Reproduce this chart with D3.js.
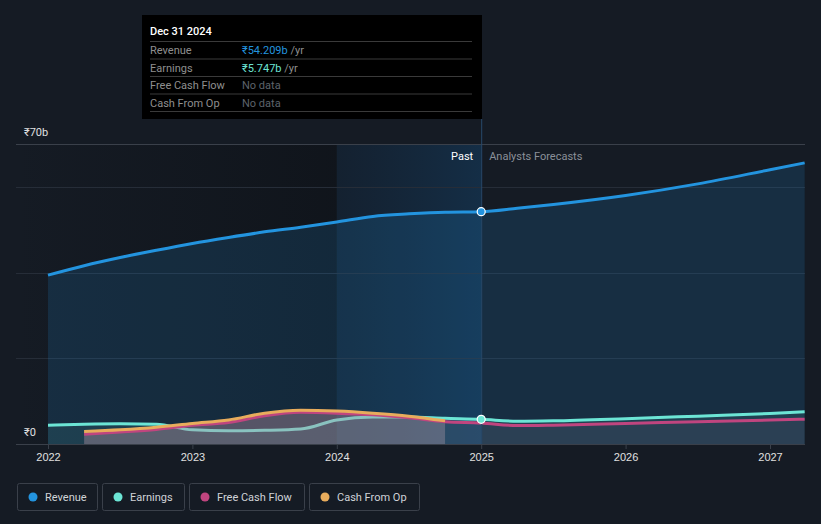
<!DOCTYPE html>
<html><head><meta charset="utf-8">
<script src="https://cdn.jsdelivr.net/npm/d3@7"></script>
<style>
html,body{margin:0;padding:0;background:#151b24;}
svg{display:block;font-family:Roboto,"Noto Sans",sans-serif;}
</style></head>
<body>
<svg id="c" width="821" height="524"></svg>
<script>
// ---- data ----
const revenueYears = [2022, 2022.25, 2022.5, 2022.75, 2023, 2023.25, 2023.5, 2023.75, 2024, 2024.25, 2024.5, 2024.75, 2025, 2025.25, 2025.5, 2026, 2026.5, 2027, 2027.24];
const revenueVals  = [39.4, 41.6, 43.5, 45.2, 46.8, 48.2, 49.5, 50.6, 51.8, 53.1, 53.7, 54.1, 54.209, 55.0, 55.9, 58.0, 60.7, 64.0, 65.6];
const earningsYears = [2022, 2022.25, 2022.5, 2022.75, 2023, 2023.25, 2023.5, 2023.75, 2024, 2024.25, 2024.5, 2024.75, 2025, 2025.25, 2025.5, 2026, 2026.5, 2027, 2027.24];
const earningsVals  = [4.4, 4.6, 4.7, 4.6, 3.3, 3.1, 3.2, 3.5, 5.6, 6.3, 6.3, 6.0, 5.747, 5.3, 5.4, 5.9, 6.5, 7.1, 7.5];
const fcfYears = [2022.25, 2022.5, 2022.75, 2023, 2023.25, 2023.5, 2023.75, 2024, 2024.25, 2024.5, 2024.75, 2025, 2025.25, 2025.5, 2026, 2026.5, 2027, 2027.24];
const fcfVals  = [2.3, 2.8, 3.4, 4.4, 5.0, 6.6, 7.4, 7.2, 6.8, 6.1, 5.2, 4.9, 4.3, 4.4, 4.8, 5.2, 5.6, 5.8];
const cfoYears = [2022.25, 2022.5, 2022.75, 2023, 2023.25, 2023.5, 2023.75, 2024, 2024.25, 2024.5, 2024.75];
const cfoVals  = [2.9, 3.3, 3.9, 4.8, 5.6, 7.2, 7.9, 7.7, 7.2, 6.5, 5.4];
const xTicks = [2022, 2023, 2024, 2025, 2026, 2027];
const yTickVals = [0, 20, 40, 60, 70];
const yLabels = [[0, "₹0"], [70, "₹70b"]];
const seriesNames = ["Revenue", "Earnings", "Free Cash Flow", "Cash From Op"];
const seriesColors = ["#2394df", "#6ce5d5", "#c0457f", "#e8ac5c"];
const tipDate = "Dec 31 2024";
const tipRows = [["Revenue", "₹54.209b", " /yr", "#2394df"], ["Earnings", "₹5.747b", " /yr", "#6ce5d5"], ["Free Cash Flow", "No data", "", "#5d636b"], ["Cash From Op", "No data", "", "#5d636b"]];
const pastEnd = 2025, highlightStart = 2024;

// ---- scales ----
const x = d3.scaleLinear().domain([2022, 2027]).range([48, 770]);
const y = d3.scaleLinear().domain([0, 70]).range([444, 144]);
const left = 16, right = 805;
const svg = d3.select("#c");

const defs = svg.append("defs");
const hg = defs.append("linearGradient").attr("id", "hl").attr("x1", 0).attr("x2", 1);
hg.append("stop").attr("offset", 0).attr("stop-color", "#13263a").attr("stop-opacity", 0.55);
hg.append("stop").attr("offset", 1).attr("stop-color", "#14304a").attr("stop-opacity", 0.9);
const lg = defs.append("linearGradient").attr("id", "lf").attr("x1", 0).attr("x2", 1);
lg.append("stop").attr("offset", 0).attr("stop-color", "#0e1218").attr("stop-opacity", 0);
lg.append("stop").attr("offset", 1).attr("stop-color", "#0e1218").attr("stop-opacity", 0.7);

// background regions
svg.append("rect").attr("x", left).attr("y", y(70)).attr("width", x(highlightStart) - left).attr("height", y(0) - y(70)).attr("fill", "url(#lf)");
svg.append("rect").attr("x", x(highlightStart)).attr("y", y(70)).attr("width", x(pastEnd) - x(highlightStart)).attr("height", y(0) - y(70)).attr("fill", "url(#hl)");

// gridlines
svg.append("g").selectAll("line").data(yTickVals).join("line")
  .attr("x1", left).attr("x2", right).attr("y1", d => Math.round(y(d)) + 0.5).attr("y2", d => Math.round(y(d)) + 0.5)
  .attr("stroke", d => d === 70 ? "#3a404a" : "#262d38").attr("stroke-width", 1);

const curve = d3.curveMonotoneX;
const zip = (xs, vs) => xs.map((d, i) => [d, vs[i]]);
const rev = zip(revenueYears, revenueVals), ear = zip(earningsYears, earningsVals), fcf = zip(fcfYears, fcfVals), cfo = zip(cfoYears, cfoVals);
const area = d3.area().x(d => x(d[0])).y0(y(0)).y1(d => y(d[1])).curve(curve);
const line = d3.line().x(d => x(d[0])).y(d => y(d[1])).curve(curve);

// areas
svg.append("path").attr("d", area(rev)).attr("fill", "#2394df").attr("fill-opacity", 0.16);
svg.append("path").attr("d", area(ear)).attr("fill", "#6ce5d5").attr("fill-opacity", 0.1);
svg.append("path").attr("d", line(ear)).attr("fill", "none").attr("stroke", seriesColors[1]).attr("stroke-width", 3);
svg.append("path").attr("d", area(fcf)).attr("fill", "#c0457f").attr("fill-opacity", 0.08);
svg.append("path").attr("d", area(cfo)).attr("fill", "#b0aeb0").attr("fill-opacity", 0.33);
svg.append("path").attr("d", area(fcf.filter(d => d[0] <= 2024.75))).attr("fill", "#c0457f").attr("fill-opacity", 0.06);

// lines
svg.append("path").attr("d", line(rev)).attr("fill", "none").attr("stroke", seriesColors[0]).attr("stroke-width", 3);
svg.append("path").attr("d", line(fcf)).attr("fill", "none").attr("stroke", seriesColors[2]).attr("stroke-width", 3);
svg.append("path").attr("d", line(cfo)).attr("fill", "none").attr("stroke", seriesColors[3]).attr("stroke-width", 3);

// x axis line
svg.append("line").attr("x1", left).attr("x2", right).attr("y1", y(0) + 0.5).attr("y2", y(0) + 0.5).attr("stroke", "#3a404a");
const xa = svg.append("g").attr("transform", `translate(0,${y(0)})`)
  .call(d3.axisBottom(x).tickValues(xTicks).tickFormat(d3.format("d")).tickSize(5).tickPadding(4));
xa.select(".domain").remove();
xa.selectAll("line").attr("stroke", "#3a404a");
xa.selectAll("text").attr("fill", "#e0e0e0").attr("font-size", 11);

// y labels
svg.append("g").selectAll("text").data(yLabels).join("text")
  .attr("x", 24).attr("y", d => y(d[0]) - 8).attr("fill", "#e0e0e0").attr("font-size", 11).text(d => d[1]);

// divider
svg.append("line").attr("x1", x(pastEnd) + 0.5).attr("x2", x(pastEnd) + 0.5).attr("y1", 119).attr("y2", y(0)).attr("stroke", "#27496a").attr("stroke-width", 1);
svg.append("text").attr("x", x(pastEnd) - 8).attr("y", 160).attr("text-anchor", "end").attr("fill", "#ffffff").attr("font-size", 11).text("Past");
svg.append("text").attr("x", x(pastEnd) + 8).attr("y", 160).attr("fill", "#8a9099").attr("font-size", 11).text("Analysts Forecasts");

// markers
svg.append("circle").attr("cx", x(2025)).attr("cy", y(54.209)).attr("r", 4).attr("fill", seriesColors[0]).attr("stroke", "#fff").attr("stroke-width", 1.2);
svg.append("circle").attr("cx", x(2025)).attr("cy", y(5.747)).attr("r", 4).attr("fill", seriesColors[1]).attr("stroke", "#fff").attr("stroke-width", 1.2);

// tooltip
const tip = svg.append("g").attr("transform", "translate(142,15)");
tip.append("rect").attr("width", 340).attr("height", 104).attr("fill", "#000000");
tip.append("text").attr("x", 8).attr("y", 20).attr("fill", "#ffffff").attr("font-size", 11).attr("font-weight", 500).text(tipDate);
tipRows.forEach((r, i) => {
  const yy = 26 + i * 17.5;
  tip.append("line").attr("x1", 8).attr("x2", 330).attr("y1", yy + 0.5).attr("y2", yy + 0.5).attr("stroke", "#3a3a3a");
  tip.append("text").attr("x", 8).attr("y", yy + 13).attr("fill", "#8f8f8f").attr("font-size", 11).text(r[0]);
  const t = tip.append("text").attr("x", 100).attr("y", yy + 13).attr("font-size", 11);
  t.append("tspan").attr("fill", r[3]).text(r[1]);
  t.append("tspan").attr("fill", "#8f8f8f").text(r[2]);
});
tip.append("line").attr("x1", 8).attr("x2", 330).attr("y1", 26 + 4 * 17.5 + 0.5).attr("y2", 26 + 4 * 17.5 + 0.5).attr("stroke", "#3a3a3a");

// legend
const widths = [80, 82, 115, 110];
let lx = 17;
seriesNames.forEach((n, i) => {
  const g = svg.append("g").attr("transform", `translate(${lx},483)`);
  g.append("rect").attr("x", 0.5).attr("y", 0.5).attr("width", widths[i]).attr("height", 27).attr("rx", 2).attr("fill", "none").attr("stroke", "#3a404a");
  g.append("circle").attr("cx", 16).attr("cy", 14).attr("r", 4.5).attr("fill", seriesColors[i]);
  g.append("text").attr("x", 28).attr("y", 18).attr("fill", "#d0d3d8").attr("font-size", 11).text(n);
  lx += widths[i] + 5;
});
</script>
</body></html>
